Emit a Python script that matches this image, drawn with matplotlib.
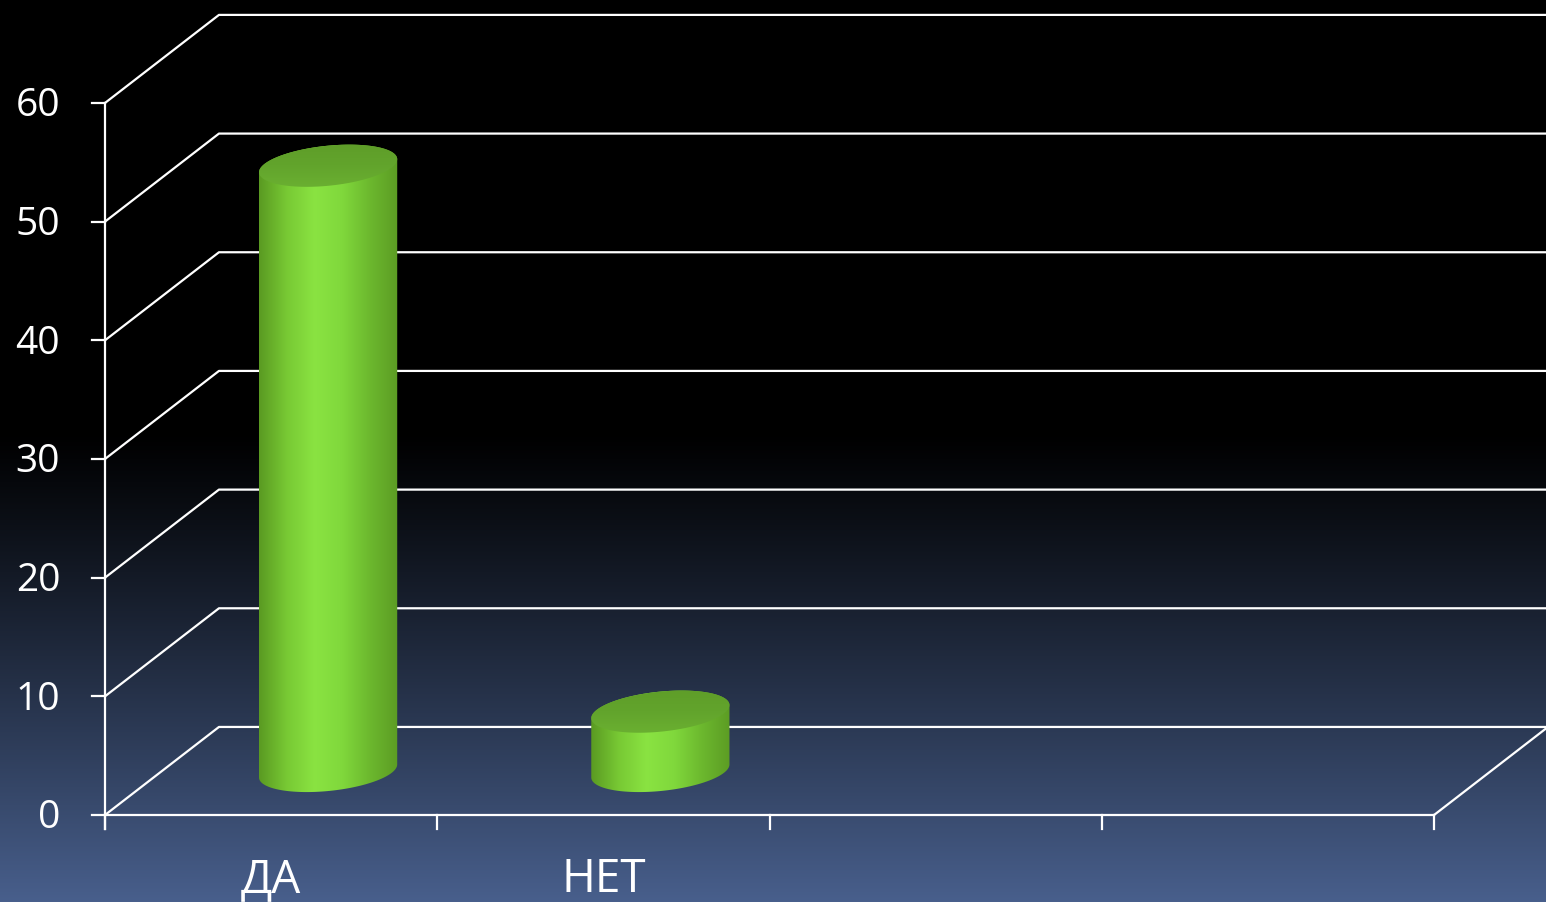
import numpy as np
import matplotlib.pyplot as plt
from matplotlib.patches import Polygon
from matplotlib.colors import LinearSegmentedColormap

plt.rcParams['font.family'] = ['Open Sans', 'DejaVu Sans']

# Survey answers
categories = ["ДА", "НЕТ", "", ""]
values = [51, 5]
y_ticks = [0, 10, 20, 30, 40, 50, 60]

# Oblique 3D offset of the back wall (in data units)
dx, dy = 0.343, 7.42
n_cat = len(categories)

fig = plt.figure(figsize=(15.46, 9.03), dpi=100)
ax = fig.add_axes([0, 0, 1, 1])
ax.set_xlim(-0.316, 4.337)
ax.set_ylim(-7.33, 68.76)
ax.axis('off')

# Background: black on top, fading to slate blue at the bottom
h = 400
frac = np.linspace(0, 1, h)
t = np.clip((frac - 0.48) / 0.52, 0, 1)
top_col = np.array([0, 0, 0])
bot_col = np.array([72, 95, 140]) / 255
grad = top_col + (bot_col - top_col) * t[:, None] ** 1.1
grad = np.repeat(grad[:, None, :], 2, axis=1)
ax.imshow(grad, extent=[-0.316, 4.337, -7.33, 68.76], origin='upper',
          aspect='auto', zorder=0)

lc = 'white'
lw = 1.6
# Back-wall gridlines and side-wall diagonals
for v in y_ticks:
    ax.plot([0, dx, n_cat + dx + 0.1], [v, v + dy, v + dy], color=lc, lw=lw, zorder=1)
    ax.plot([-0.04, 0], [v, v], color=lc, lw=lw, zorder=1)
# Floor front edge and right diagonal
ax.plot([0, n_cat], [0, 0], color=lc, lw=lw, zorder=1)
ax.plot([n_cat, n_cat + dx], [0, dy], color=lc, lw=lw, zorder=1)
# Value axis
ax.plot([0, 0], [-1.2, y_ticks[-1]], color=lc, lw=lw, zorder=1)
for k in range(n_cat + 1):
    ax.plot([k, k], [0, -1.2], color=lc, lw=lw, zorder=1)

for v in y_ticks:
    ax.text(-0.135, v - 0.2, str(v), color='white', fontsize=28,
            ha='right', va='center')
for i, lab in enumerate(categories):
    ax.text(i + 0.5, -5.4, lab, color='white', fontsize=33,
            ha='center', va='center')

# Cylinders
body_cmap = LinearSegmentedColormap.from_list(
    'body', ['#5a9a22', '#78c934', '#8ae342', '#80d83c', '#6cb82e', '#5c9c24'])
top_cmap = LinearSegmentedColormap.from_list(
    'top', ['#6cb232', '#62a42c', '#5e9c28'])
a = 0.208     # horizontal radius
b = 1.69      # vertical semi-axis of the ellipse
s = 0.55      # tilt of the ellipse (right side higher)
tt = np.linspace(0, 2 * np.pi, 200)

for i, val in enumerate(values):
    cx = i + 0.5 + dx / 2
    cy0 = dy / 2
    cy1 = cy0 + val

    lower = np.linspace(np.pi, 2 * np.pi, 100)
    upper = np.linspace(0, np.pi, 100)
    bx = cx + a * np.cos(lower)
    by = cy0 + b * np.sin(lower) + s * np.cos(lower)
    ux = cx + a * np.cos(upper)
    uy = cy1 + b * np.sin(upper) + s * np.cos(upper)
    body = Polygon(np.column_stack([np.r_[bx, ux], np.r_[by, uy]]),
                   closed=True, facecolor='none', edgecolor='none', zorder=3)
    ax.add_patch(body)
    im = ax.imshow(np.linspace(0, 1, 256)[None, :], cmap=body_cmap,
                   extent=[cx - a, cx + a, cy0 - b - s, cy1 + b + s],
                   aspect='auto', zorder=3)
    im.set_clip_path(body)

    ex = cx + a * np.cos(tt)
    ey = cy1 + b * np.sin(tt) + s * np.cos(tt)
    top = Polygon(np.column_stack([ex, ey]), closed=True,
                  facecolor='none', edgecolor='none', zorder=4)
    ax.add_patch(top)
    imt = ax.imshow(np.linspace(0, 1, 256)[:, None], cmap=top_cmap,
                    extent=[cx - a, cx + a, cy1 - b - s, cy1 + b + s],
                    origin='lower', aspect='auto', zorder=4)
    imt.set_clip_path(top)

fig.savefig('out.png', dpi=100)
